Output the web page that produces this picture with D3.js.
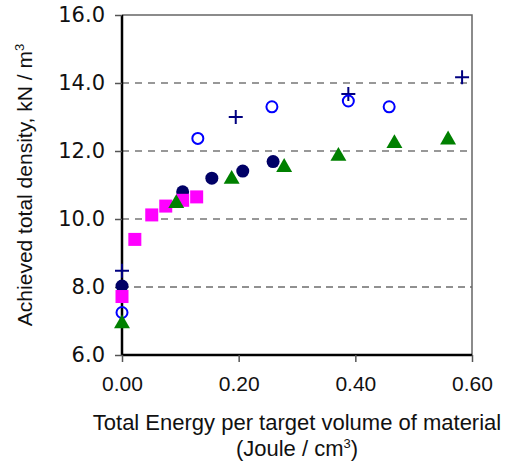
<!DOCTYPE html>
<html>
<head>
<meta charset="utf-8">
<script src="https://cdn.jsdelivr.net/npm/d3@7"></script>
<style>
  body { margin: 0; background: #fff; }
  svg { display: block; }
</style>
</head>
<body>
<div id="chart"></div>
<script>
'use strict'

// series: [energy J/cm3, density kN/m3]
const plusPts = [[0.00, 8.48], [0.195, 13.0], [0.388, 13.68], [0.583, 14.17]]
const openCirclePts = [[0.00, 7.25], [0.130, 12.37], [0.257, 13.30], [0.388, 13.47], [0.458, 13.30]]
const filledCirclePts = [[0.00, 8.03], [0.104, 10.80], [0.154, 11.20], [0.207, 11.41], [0.259, 11.69]]
const squarePts = [[0.00, 7.72], [0.022, 9.40], [0.051, 10.12], [0.075, 10.38], [0.104, 10.55], [0.128, 10.65]]
const trianglePts = [[0.00, 6.92], [0.093, 10.46], [0.188, 11.17], [0.278, 11.52], [0.371, 11.85], [0.467, 12.22], [0.559, 12.33]]

const xTicks = [0, 0.2, 0.4, 0.6]
const yTicks = [6, 8, 10, 12, 14, 16]

const width = 508, height = 463
const margin = {top: 15, right: 36, bottom: 108, left: 122}

const svg = d3.select("#chart").append("svg")
  .attr("width", width)
  .attr("height", height)

const x = d3.scaleLinear().domain([0, 0.6]).range([margin.left, width - margin.right])
const y = d3.scaleLinear().domain([6, 16]).range([height - margin.bottom, margin.top])

// gridlines
svg.append("g").selectAll("line")
  .data(yTicks.filter(d => d > 6 && d < 16))
  .join("line")
  .attr("x1", x(0))
  .attr("x2", x(0.6))
  .attr("y1", d => y(d))
  .attr("y2", d => y(d))
  .attr("stroke", d => d == 8 ? "#222" : "#777")
  .attr("stroke-width", d => d == 8 ? 1 : 1.6)
  .attr("stroke-dasharray", d => d == 8 ? "7,5" : "7,6")

// top and right frame
svg.append("path")
  .attr("d", `M${x(0)},${y(16)}H${x(0.6)}V${y(6)}`)
  .attr("fill", "none")
  .attr("stroke", "#666")
  .attr("stroke-width", 1.5)

// axes
const yAxis = svg.append("g")
  .attr("transform", `translate(${x(0)},0)`)
  .call(d3.axisLeft(y).tickValues(yTicks).tickFormat(d3.format(".1f")).tickSize(7).tickPadding(10))
yAxis.select(".domain").attr("stroke", "#000").attr("stroke-width", 2.5)
  .attr("d", `M0,${y(6)}V${y(16)}`)
yAxis.selectAll(".tick line").attr("stroke", "#555").attr("stroke-width", 1.5)
yAxis.selectAll("text")
  .attr("font-family", "DejaVu Sans, Verdana, sans-serif")
  .attr("font-size", 21)
  .attr("fill", "#111")

const xAxis = svg.append("g")
  .attr("transform", `translate(0,${y(6)})`)
  .call(d3.axisBottom(x).tickValues(xTicks).tickFormat(d3.format(".2f")).tickSize(7).tickPadding(14))
xAxis.select(".domain").attr("stroke", "#000").attr("stroke-width", 2.5)
  .attr("d", `M${x(0)},0H${x(0.6)}`)
xAxis.selectAll(".tick line").attr("stroke", "#555").attr("stroke-width", 1.5)
xAxis.selectAll("text")
  .attr("font-family", "Liberation Sans, Arial, sans-serif")
  .attr("font-size", 21)
  .attr("fill", "#111")

// axis titles
const xTitle = svg.append("text")
  .attr("x", (x(0) + x(0.6)) / 2)
  .attr("y", 430)
  .attr("text-anchor", "middle")
  .attr("font-family", "Liberation Sans, Arial, sans-serif")
  .attr("font-size", 22)
  .attr("fill", "#111")
  .text("Total Energy per target volume of material")

const xTitle2 = svg.append("text")
  .attr("x", (x(0) + x(0.6)) / 2)
  .attr("y", 456)
  .attr("text-anchor", "middle")
  .attr("font-family", "Liberation Sans, Arial, sans-serif")
  .attr("font-size", 22)
  .attr("fill", "#111")
xTitle2.append("tspan").text("(Joule / cm")
xTitle2.append("tspan").attr("font-size", 13).attr("dy", -8).text("3")
xTitle2.append("tspan").attr("dy", 8).text(")")

const yTitle = svg.append("text")
  .attr("transform", `translate(32,${(y(6) + y(16)) / 2}) rotate(-90)`)
  .attr("text-anchor", "middle")
  .attr("font-family", "Liberation Sans, Arial, sans-serif")
  .attr("font-size", 21)
  .attr("fill", "#111")
yTitle.append("tspan").text("Achieved total density, kN / m")
yTitle.append("tspan").attr("font-size", 13).attr("dy", -8).text("3")

// markers
const marks = svg.append("g")

// plus
marks.selectAll(".plus")
  .data(plusPts)
  .join("path")
  .attr("class", "plus")
  .attr("d", d => `M${x(d[0]) - 7},${y(d[1])}h14M${x(d[0])},${y(d[1]) - 7}v14`)
  .attr("stroke", "#000080")
  .attr("stroke-width", 2)
  .attr("fill", "none")

// open circles
marks.selectAll(".ocirc")
  .data(openCirclePts)
  .join("circle")
  .attr("class", "ocirc")
  .attr("cx", d => x(d[0]))
  .attr("cy", d => y(d[1]))
  .attr("r", 5.5)
  .attr("fill", "none")
  .attr("stroke", "#0000ff")
  .attr("stroke-width", 2)

// filled circles
marks.selectAll(".fcirc")
  .data(filledCirclePts)
  .join("circle")
  .attr("class", "fcirc")
  .attr("cx", d => x(d[0]))
  .attr("cy", d => y(d[1]))
  .attr("r", 6.5)
  .attr("fill", "#000066")

// squares
marks.selectAll(".sq")
  .data(squarePts)
  .join("rect")
  .attr("class", "sq")
  .attr("x", d => x(d[0]) - 6.5)
  .attr("y", d => y(d[1]) - 6.5)
  .attr("width", 13)
  .attr("height", 13)
  .attr("fill", "#ff00ff")

// triangles
const tri = d3.symbol().type(d3.symbolTriangle).size(110)
marks.selectAll(".tri")
  .data(trianglePts)
  .join("path")
  .attr("class", "tri")
  .attr("transform", d => `translate(${x(d[0])},${y(d[1])})`)
  .attr("d", tri)
  .attr("fill", "#008000")
</script>
</body>
</html>
